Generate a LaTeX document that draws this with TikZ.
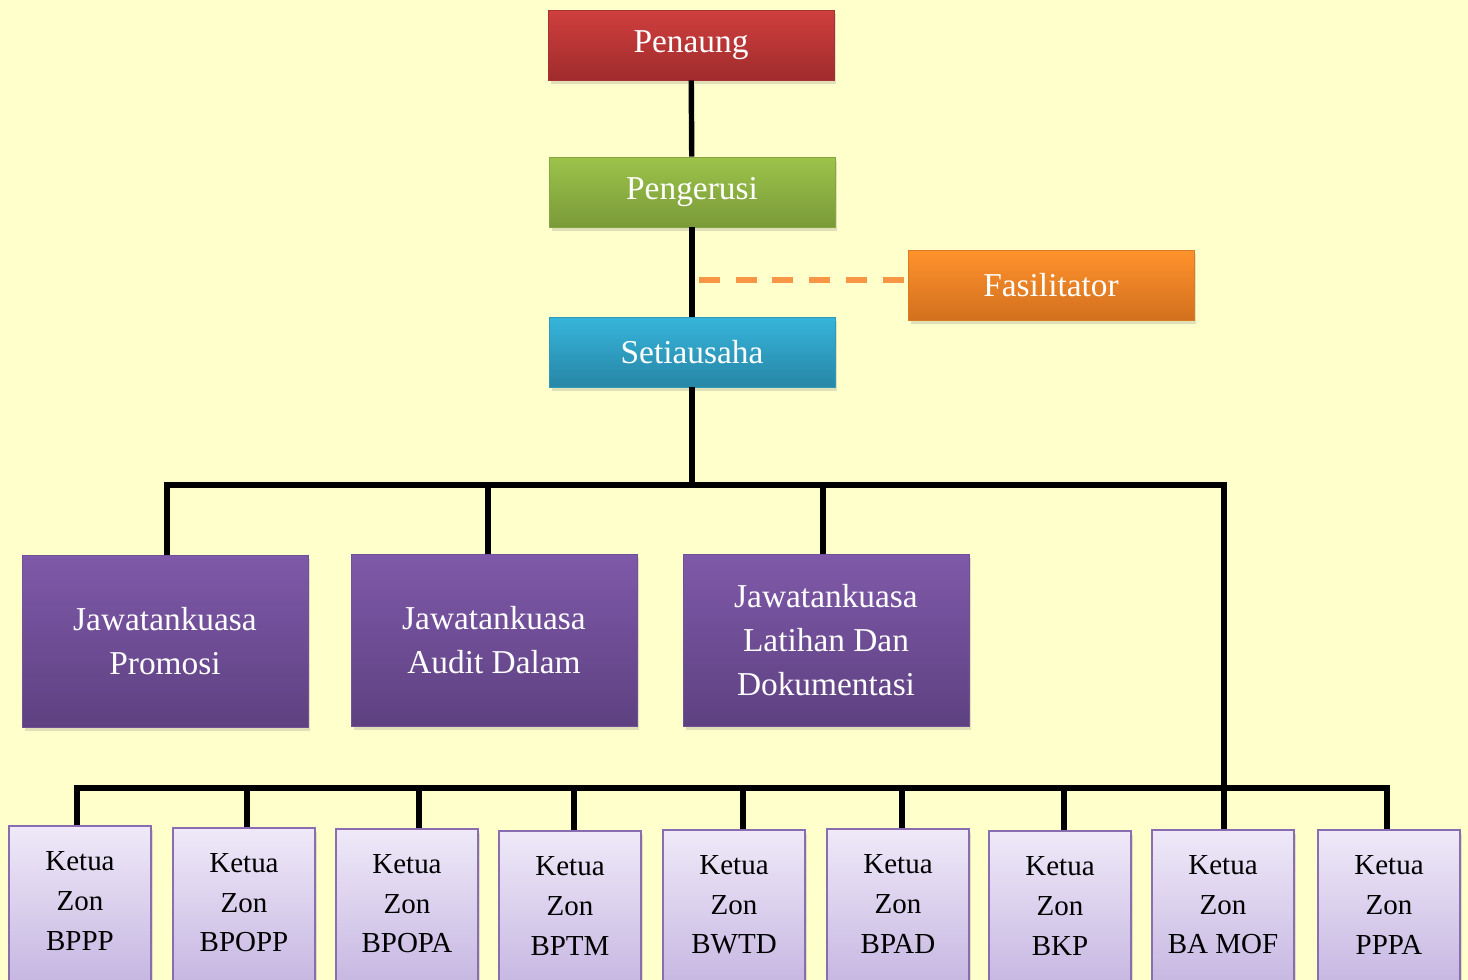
\documentclass[tikz,border=0pt]{standalone}
\usepackage{fontspec}
\setmainfont{Liberation Serif}
\usetikzlibrary{shadows}

\definecolor{bgyellow}{HTML}{FFFFCC}
\definecolor{redtop}{HTML}{CF3F3E}
\definecolor{redbot}{HTML}{A02B2C}
\definecolor{greentop}{HTML}{9DC34B}
\definecolor{greenbot}{HTML}{7A9A38}
\definecolor{orangetop}{HTML}{FF922C}
\definecolor{orangebot}{HTML}{D2701E}
\definecolor{bluetop}{HTML}{36B5DB}
\definecolor{bluebot}{HTML}{2786A6}
\definecolor{purpletop}{HTML}{7F59A9}
\definecolor{purplebot}{HTML}{5E4181}
\definecolor{lavtop}{HTML}{EFE9F8}
\definecolor{lavbot}{HTML}{C5B5E1}
\definecolor{lavedge}{HTML}{8A6CB0}
\definecolor{dashorange}{HTML}{F79646}

\begin{document}
\begin{tikzpicture}[x=0.02cm, y=-0.02cm,
  link/.style={black, line width=3.1pt},
  fasline/.style={dashorange, line width=2.9pt, dash pattern=on 11.9pt off 9pt},
  shade/.style={drop shadow={shadow xshift=0.05cm, shadow yshift=-0.08cm, opacity=0.25}},
  box/.style={rectangle, shade, minimum width=5.72cm, minimum height=1.4cm, text=white,
    font=\fontsize{19}{25}\selectfont},
  redbox/.style={box, top color=redtop, bottom color=redbot, draw=redtop!80!black, thin},
  greenbox/.style={box, top color=greentop, bottom color=greenbot, draw=greentop!85!black, thin},
  orangebox/.style={box, top color=orangetop, bottom color=orangebot, draw=orangetop!85!black, thin},
  bluebox/.style={box, top color=bluetop, bottom color=bluebot, draw=bluetop!85!black, thin},
  jkbox/.style={box, minimum height=3.44cm, align=center, top color=purpletop, bottom color=purplebot,
    draw=purpletop!90!black, thin},
  zonbox/.style={rectangle, shade, minimum width=2.84cm, minimum height=3.2cm,
    top color=lavtop, bottom color=lavbot, draw=lavedge, line width=1pt},
  zontext/.style={align=center, yshift=3pt, font=\fontsize{16.5}{22.7}\selectfont}]

  \path[use as bounding box, clip] (0,0) rectangle (1468,980);
  \fill[bgyellow] (0,0) rectangle (1468,980);

  \node[redbox] (pen) at (691,45) {Penaung};
  \node[greenbox] (peng) at (692,192) {Pengerusi};
  \node[orangebox] (fas) at (1051,285) {Fasilitator};
  \node[bluebox] (setia) at (692,352) {Setiausaha};

  \node[jkbox] (prom) at (165,641) {Jawatankuasa\\Promosi};
  \node[jkbox] (audit) at (494,640) {Jawatankuasa\\Audit Dalam};
  \node[jkbox] (lat) at (826,640) {Jawatankuasa\\Latihan Dan\\Dokumentasi};

  \foreach \cx/\ty/\nm/\zlab in {80/826/z1/BPPP, 244/828/z2/BPOPP, 407/829/z3/BPOPA,
      570/831/z4/BPTM, 734/830/z5/BWTD, 898/829/z6/BPAD, 1060/831/z7/BKP,
      1223/830/z8/BA MOF, 1389/830/z9/PPPA}
    \node[zonbox, label={[zontext]center:Ketua\\Zon\\\zlab}] (\nm) at (\cx,\ty+80) {};

  % connectors
  \coordinate (busA) at (692,485);
  \coordinate (busB) at (0,788);
  \coordinate (dashL) at (699,280);
  \draw[fasline] (dashL) -- (dashL -| fas.west);
  \draw[link] (pen) -- (peng);
  \draw[link] (peng) -- (setia);
  \draw[link] (setia) -- (busA);
  \draw[link] ([xshift=0.04cm]prom.north) |- (busA) -| ([xshift=0.02cm]z8.north);
  \draw[link] ([xshift=-0.12cm]audit.north) -- ([xshift=-0.12cm]audit.north |- busA);
  \draw[link] ([xshift=-0.06cm]lat.north) -- ([xshift=-0.06cm]lat.north |- busA);
  \draw[link] ([xshift=-0.06cm]z1.north) -- ([xshift=-0.06cm]z1.north |- busB)
    -| ([xshift=-0.04cm]z9.north);
  \foreach \nm/\dx in {z2/0.06, z3/0.24, z4/0.08, z5/0.18, z6/0.08, z7/0.08}
    \draw[link] ([xshift=\dx cm]\nm.north) -- ([xshift=\dx cm]\nm.north |- busB);
\end{tikzpicture}
\end{document}
